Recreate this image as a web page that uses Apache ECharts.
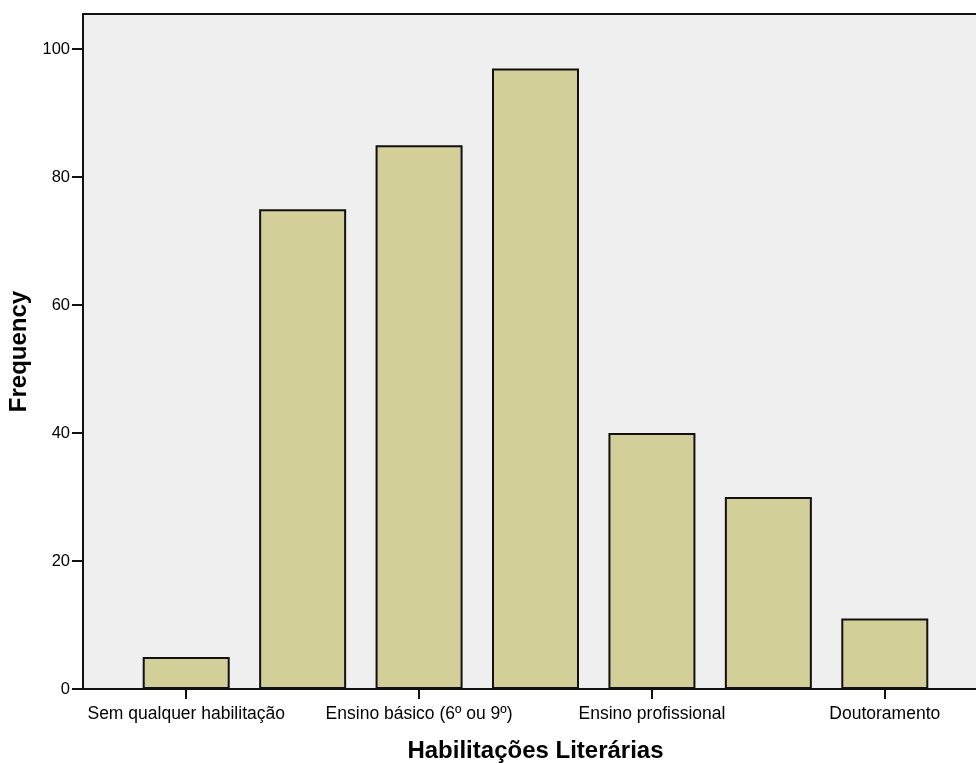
<!DOCTYPE html>
<html>
<head>
<meta charset="utf-8">
<script src="https://cdn.jsdelivr.net/npm/echarts@6/dist/echarts.min.js"></script>
<style>html,body{margin:0;padding:0;background:#fff}#c{width:976px;height:763px}</style>
</head>
<body>
<div id="c"></div>
<script>
const categories = [
  "Sem qualquer habilitação",
  "Ensino primário (4º ano)",
  "Ensino básico (6º ou 9º)",
  "Ensino secundário (12º)",
  "Ensino profissional",
  "Licenciatura",
  "Doutoramento"
];
const frequency = [5, 75, 85, 97, 40, 30, 11];
const yTicks = { min: 0, max: 105.5, interval: 20 };
const xTitle = "Habilitações Literárias";
const yTitle = "Frequency";

const font = "Arial, 'Liberation Sans', sans-serif";
const lineCol = "#111111";
const chart = echarts.init(document.getElementById('c'), null, { renderer: 'canvas' });
chart.setOption({
  animation: false,
  backgroundColor: '#ffffff',
  grid: [
    { left: 128, right: 33, top: 14, bottom: 74, containLabel: false, outerBoundsMode: 'none' },
    { left: 83, right: 0, top: 14, bottom: 74, show: true, backgroundColor: '#efefef', borderWidth: 0, z: 0, containLabel: false, outerBoundsMode: 'none' }
  ],
  xAxis: [
    {
      type: 'category', gridIndex: 0, data: categories,
      boundaryGap: true,
      axisLine: { show: false },
      axisTick: { show: true, alignWithLabel: true, interval: 1, length: 10, lineStyle: { color: lineCol, width: 2 } },
      axisLabel: { interval: 1, color: '#000', fontFamily: font, fontSize: 17.5, margin: 16 },
      name: xTitle, nameLocation: 'middle', nameGap: 50,
      nameTextStyle: { fontFamily: font, fontSize: 24, fontWeight: 'bold', color: '#000' }
    },
    {
      type: 'value', gridIndex: 1, position: 'bottom', min: 0, max: 1,
      axisLine: { show: true, onZero: false, lineStyle: { color: lineCol, width: 2 } },
      axisTick: { show: false }, axisLabel: { show: false }, splitLine: { show: false }, z: 5
    },
    {
      type: 'value', gridIndex: 1, position: 'top', min: 0, max: 1,
      axisLine: { show: true, onZero: false, lineStyle: { color: lineCol, width: 2 } },
      axisTick: { show: false }, axisLabel: { show: false }, splitLine: { show: false }
    }
  ],
  yAxis: [
    {
      type: 'value', gridIndex: 0, min: yTicks.min, max: yTicks.max, interval: yTicks.interval,
      offset: 45,
      axisLine: { show: true, lineStyle: { color: lineCol, width: 2 } },
      axisTick: { show: true, length: 11, lineStyle: { color: lineCol, width: 2 } },
      axisLabel: { color: '#000', fontFamily: font, fontSize: 16.5, margin: 13, showMaxLabel: false },
      splitLine: { show: false },
      name: yTitle, nameLocation: 'middle', nameGap: 47, nameRotate: 90,
      nameTextStyle: { fontFamily: font, fontSize: 24, fontWeight: 'bold', color: '#000' }
    },
    { type: 'value', gridIndex: 1, show: false, min: 0, max: 1 }
  ],
  series: [
    {
      type: 'bar', xAxisIndex: 0, yAxisIndex: 0, data: frequency,
      barWidth: 87,
      itemStyle: { color: '#d3cf98', borderColor: lineCol, borderWidth: 2 },
      z: 3
    }
  ]
});
</script>
</body>
</html>
